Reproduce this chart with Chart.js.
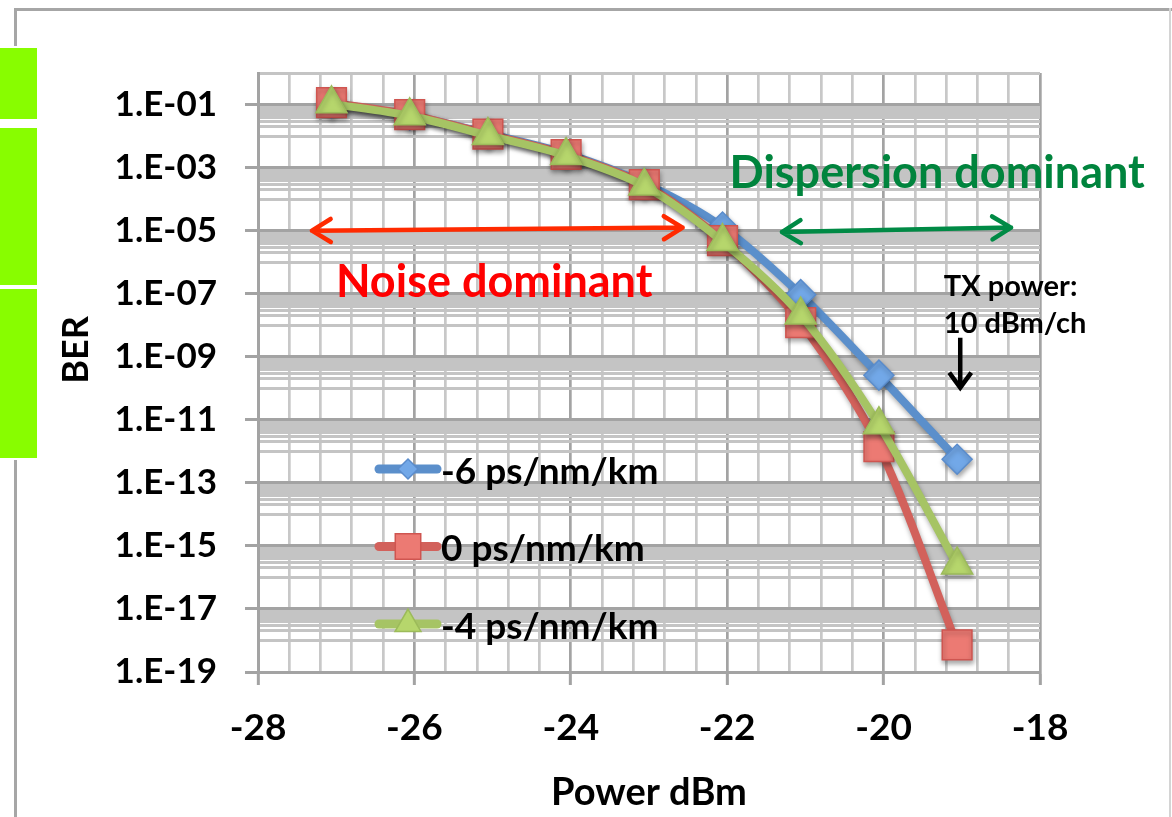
<!DOCTYPE html>
<html>
<head>
<meta charset="utf-8">
<title>BER vs received power</title>
<script src="https://cdn.jsdelivr.net/npm/chart.js@4.4.1/dist/chart.umd.min.js"></script>
<style>
  html, body { margin: 0; padding: 0; background: #fff; }
  body { width: 1172px; height: 817px; position: relative; overflow: hidden; }
  .frame-top { position: absolute; left: 14px; top: 8px; width: 1158px; height: 3px; background: #a6a6a6; }
  .frame-left { position: absolute; left: 14px; width: 3px; background: #a6a6a6; }
  .frame-right { position: absolute; left: 1169px; top: 8px; width: 2px; height: 809px; background: #d4d4d4; }
  .tab { position: absolute; left: 0; width: 37px; background: #88fd00; }
  #plot { position: absolute; left: 0; top: 0; }
</style>
</head>
<body>
<div class="frame-top"></div>
<div class="frame-left" style="top: 8px; height: 38px;"></div>
<div class="frame-left" style="top: 460px; height: 357px;"></div>
<div class="frame-right"></div>
<div class="tab" style="top: 48px; height: 71px;"></div>
<div class="tab" style="top: 128px; height: 157px;"></div>
<div class="tab" style="top: 289px; height: 169px;"></div>
<canvas id="plot" width="1172" height="817"></canvas>
<script>
// received power per channel (dBm)
const powerDbm = [-27.06, -26.06, -25.06, -24.06, -23.06, -22.06, -21.06, -20.06, -19.06];

// BER for each residual dispersion
const berMinus6 = [1.1e-1, 4.6e-2, 1.2e-2, 2.8e-3, 3.2e-4, 1.3e-5, 9.3e-8, 2.6e-10, 5.6e-13];
const berZero   = [1.15e-1, 4.8e-2, 1.15e-2, 2.6e-3, 2.9e-4, 4.8e-6, 1.2e-8, 1.4e-12, 7.2e-19];
const berMinus4 = [1.05e-1, 4.4e-2, 1.05e-2, 2.4e-3, 2.6e-4, 4.5e-6, 2.1e-8, 7.0e-12, 2.5e-16];

const seriesLabels = ['-6 ps/nm/km', '0 ps/nm/km', '-4 ps/nm/km'];

const xTickLabels = ['-28', '-26', '-24', '-22', '-20', '-18'];
const yTickLabels = ['1.E-01', '1.E-03', '1.E-05', '1.E-07', '1.E-09',
                     '1.E-11', '1.E-13', '1.E-15', '1.E-17', '1.E-19'];

const xMajor = xTickLabels.map(Number);
const yMajor = yTickLabels.map(s => Number(s.replace('.E', 'E')));

const FONT = 'Lato, "Open Sans", sans-serif';

function points(ys) {
  return powerDbm.map((p, i) => ({ x: p, y: ys[i] }));
}

// soft drop shadow under lines and markers
const shadowPlugin = {
  id: 'dropShadow',
  beforeDatasetsDraw(chart) {
    const c = chart.ctx;
    c.save();
    c.shadowColor = 'rgba(0,0,0,0.35)';
    c.shadowBlur = 5;
    c.shadowOffsetX = 1;
    c.shadowOffsetY = 3;
  },
  afterDatasetsDraw(chart) {
    chart.ctx.restore();
  }
};

function doubleArrow(ctx, x1, y1, x2, y2, color, width) {
  const ang = Math.atan2(y2 - y1, x2 - x1);
  const hl = 22, hw = 0.55;
  ctx.save();
  ctx.strokeStyle = color;
  ctx.lineWidth = width;
  ctx.lineCap = 'round';
  ctx.lineJoin = 'round';
  ctx.beginPath();
  ctx.moveTo(x1, y1);
  ctx.lineTo(x2, y2);
  ctx.moveTo(x2 - hl * Math.cos(ang - hw), y2 - hl * Math.sin(ang - hw));
  ctx.lineTo(x2, y2);
  ctx.lineTo(x2 - hl * Math.cos(ang + hw), y2 - hl * Math.sin(ang + hw));
  ctx.moveTo(x1 + hl * Math.cos(ang - hw), y1 + hl * Math.sin(ang - hw));
  ctx.lineTo(x1, y1);
  ctx.lineTo(x1 + hl * Math.cos(ang + hw), y1 + hl * Math.sin(ang + hw));
  ctx.stroke();
  ctx.restore();
}

// annotations, in-plot legend and the vertical axis title
const notesPlugin = {
  id: 'notes',
  afterDraw(chart) {
    const { ctx, chartArea } = chart;
    const xs = chart.scales.x, ys = chart.scales.y;
    const X = v => xs.getPixelForValue(v);
    const Y = v => ys.getPixelForValue(v);

    ctx.save();
    ctx.textBaseline = 'middle';

    // noise region
    doubleArrow(ctx, X(-27.31), Y(1.0e-5), X(-22.57), Y(1.25e-5), '#ff2a00', 4.5);
    ctx.fillStyle = '#ff0000';
    ctx.font = 'bold 45px ' + FONT;
    ctx.textAlign = 'center';
    ctx.fillText('Noise dominant', X(-24.98), Y(2.2e-7));

    // dispersion region
    doubleArrow(ctx, X(-21.3), Y(0.9e-5), X(-18.37), Y(1.25e-5), '#008a45', 4.5);
    ctx.fillStyle = '#00843d';
    ctx.font = 'bold 45px ' + FONT;
    ctx.textAlign = 'left';
    ctx.fillText('Dispersion dominant', X(-21.97), Y(6.5e-4));

    // launch power note
    ctx.fillStyle = '#000';
    ctx.font = 'bold 29px ' + FONT;
    ctx.fillText('TX power:', X(-19.23), Y(1.65e-7));
    ctx.fillText('10 dBm/ch', X(-19.23), Y(1.1e-8));
    const ax = X(-19.02), ay1 = Y(4e-9), ay2 = Y(1.05e-10);
    ctx.strokeStyle = '#000';
    ctx.lineWidth = 4.5;
    ctx.beginPath();
    ctx.moveTo(ax, ay1);
    ctx.lineTo(ax, ay2);
    ctx.moveTo(ax - 11, ay2 - 15);
    ctx.lineTo(ax, ay2);
    ctx.lineTo(ax + 11, ay2 - 15);
    ctx.stroke();

    // legend
    const lx = chartArea.left + 118, ly = chartArea.top + 396, step = 77.5;
    const markerSize = [10, 18, 15];
    chart.data.datasets.forEach((ds, i) => {
      const cy = ly + i * step;
      ctx.save();
      ctx.strokeStyle = ds.borderColor;
      ctx.lineWidth = 9;
      ctx.lineCap = 'round';
      ctx.beginPath();
      ctx.moveTo(lx + 3, cy);
      ctx.lineTo(lx + 61, cy);
      ctx.stroke();
      ctx.fillStyle = ds.pointBackgroundColor;
      ctx.strokeStyle = ds.pointBorderColor;
      ctx.lineWidth = ds.pointBorderWidth;
      Chart.helpers.drawPoint(ctx, {
        pointStyle: ds.pointStyle, radius: markerSize[i],
        borderWidth: ds.pointBorderWidth, rotation: 0
      }, lx + 32, cy);
      ctx.restore();
      ctx.fillStyle = '#000';
      ctx.font = 'bold 37px ' + FONT;
      ctx.textAlign = 'left';
      ctx.fillText(ds.label, lx + 65, cy + 3);
    });

    // vertical axis title
    ctx.translate(76, 350);
    ctx.rotate(-Math.PI / 2);
    ctx.textAlign = 'center';
    ctx.fillStyle = '#000';
    ctx.font = 'bold 36px ' + FONT;
    ctx.fillText('BER', 0, 0);
    ctx.restore();
  }
};

new Chart(document.getElementById('plot'), {
  type: 'line',
  data: {
    datasets: [
      {
        label: seriesLabels[0],
        data: points(berMinus6),
        borderColor: '#5b8fcb',
        borderWidth: 8,
        pointStyle: 'rectRot',
        pointRadius: 15,
        pointBackgroundColor: '#72a8e8',
        pointBorderColor: '#5a8ccc',
        pointBorderWidth: 1.5,
        tension: 0.3,
        order: 3
      },
      {
        label: seriesLabels[1],
        data: points(berZero),
        borderColor: '#d2615b',
        borderWidth: 8,
        pointStyle: 'rect',
        pointRadius: 21,
        pointBackgroundColor: '#ec7a73',
        pointBorderColor: '#cf5550',
        pointBorderWidth: 1.5,
        tension: 0.3,
        order: 2
      },
      {
        label: seriesLabels[2],
        data: points(berMinus4),
        borderColor: '#a6c464',
        borderWidth: 8,
        pointStyle: 'triangle',
        pointRadius: 18,
        pointBackgroundColor: '#b6d66c',
        pointBorderColor: '#9cbb5a',
        pointBorderWidth: 1.5,
        tension: 0.3,
        order: 1
      }
    ]
  },
  options: {
    responsive: false,
    animation: false,
    devicePixelRatio: 1,
    layout: { padding: { left: 0, top: 73, right: 132, bottom: 0 } },
    plugins: {
      legend: { display: false },
      tooltip: { enabled: false }
    },
    scales: {
      x: {
        type: 'linear',
        min: xMajor[0],
        max: xMajor[xMajor.length - 1],
        afterBuildTicks(scale) {
          const ticks = [];
          for (let i = 0; i <= 25; i++) {
            const v = Math.round((xMajor[0] + i * 0.4) * 10) / 10;
            ticks.push({ value: v, major: xMajor.includes(v) });
          }
          scale.ticks = ticks;
        },
        afterFit(scale) { scale.height = 145; },
        grid: {
          color: c => c.tick && c.tick.major ? '#a3a3a3' : '#c8c8c8',
          lineWidth: 2.7,
          tickLength: 13,
          tickColor: c => c.tick && c.tick.major ? '#a3a3a3' : 'rgba(0,0,0,0)',
          tickWidth: 3
        },
        border: { color: '#a3a3a3', width: 3 },
        ticks: {
          autoSkip: false,
          maxRotation: 0,
          padding: 21,
          color: '#000',
          font: { family: FONT, weight: 'bold', size: 37 },
          callback: (v, i, ticks) => ticks[i].major ? String(v) : ''
        },
        title: {
          display: true,
          text: 'Power dBm',
          color: '#000',
          font: { family: FONT, weight: 'bold', size: 38 },
          padding: { top: 0, bottom: 1 }
        }
      },
      y: {
        type: 'logarithmic',
        min: 1e-19,
        max: 1,
        afterBuildTicks(scale) {
          const ticks = [{ value: 1, major: false }];
          yMajor.forEach((v, i) => {
            ticks.push({ value: v, major: true, name: yTickLabels[i] });
            if (v < 0.05) {
              for (let k = 1; k <= 9; k++) ticks.push({ value: k * v * 10, major: false });
            }
          });
          ticks.sort((a, b) => a.value - b.value);
          scale.ticks = ticks;
        },
        afterFit(scale) { scale.width = 258; },
        grid: {
          color: c => c.tick && c.tick.major ? '#a3a3a3' : '#c4c4c4',
          lineWidth: c => c.tick && c.tick.major ? 3 : 3,
          tickLength: 13,
          tickColor: c => c.tick && c.tick.major ? '#a3a3a3' : 'rgba(0,0,0,0)',
          tickWidth: 3
        },
        border: { color: '#a3a3a3', width: 3 },
        ticks: {
          autoSkip: false,
          padding: 28,
          color: '#000',
          font: { family: FONT, weight: 'bold', size: 35 },
          callback: (v, i, ticks) => ticks[i].major ? ticks[i].name : ''
        }
      }
    }
  },
  plugins: [shadowPlugin, notesPlugin]
});
</script>
</body>
</html>
